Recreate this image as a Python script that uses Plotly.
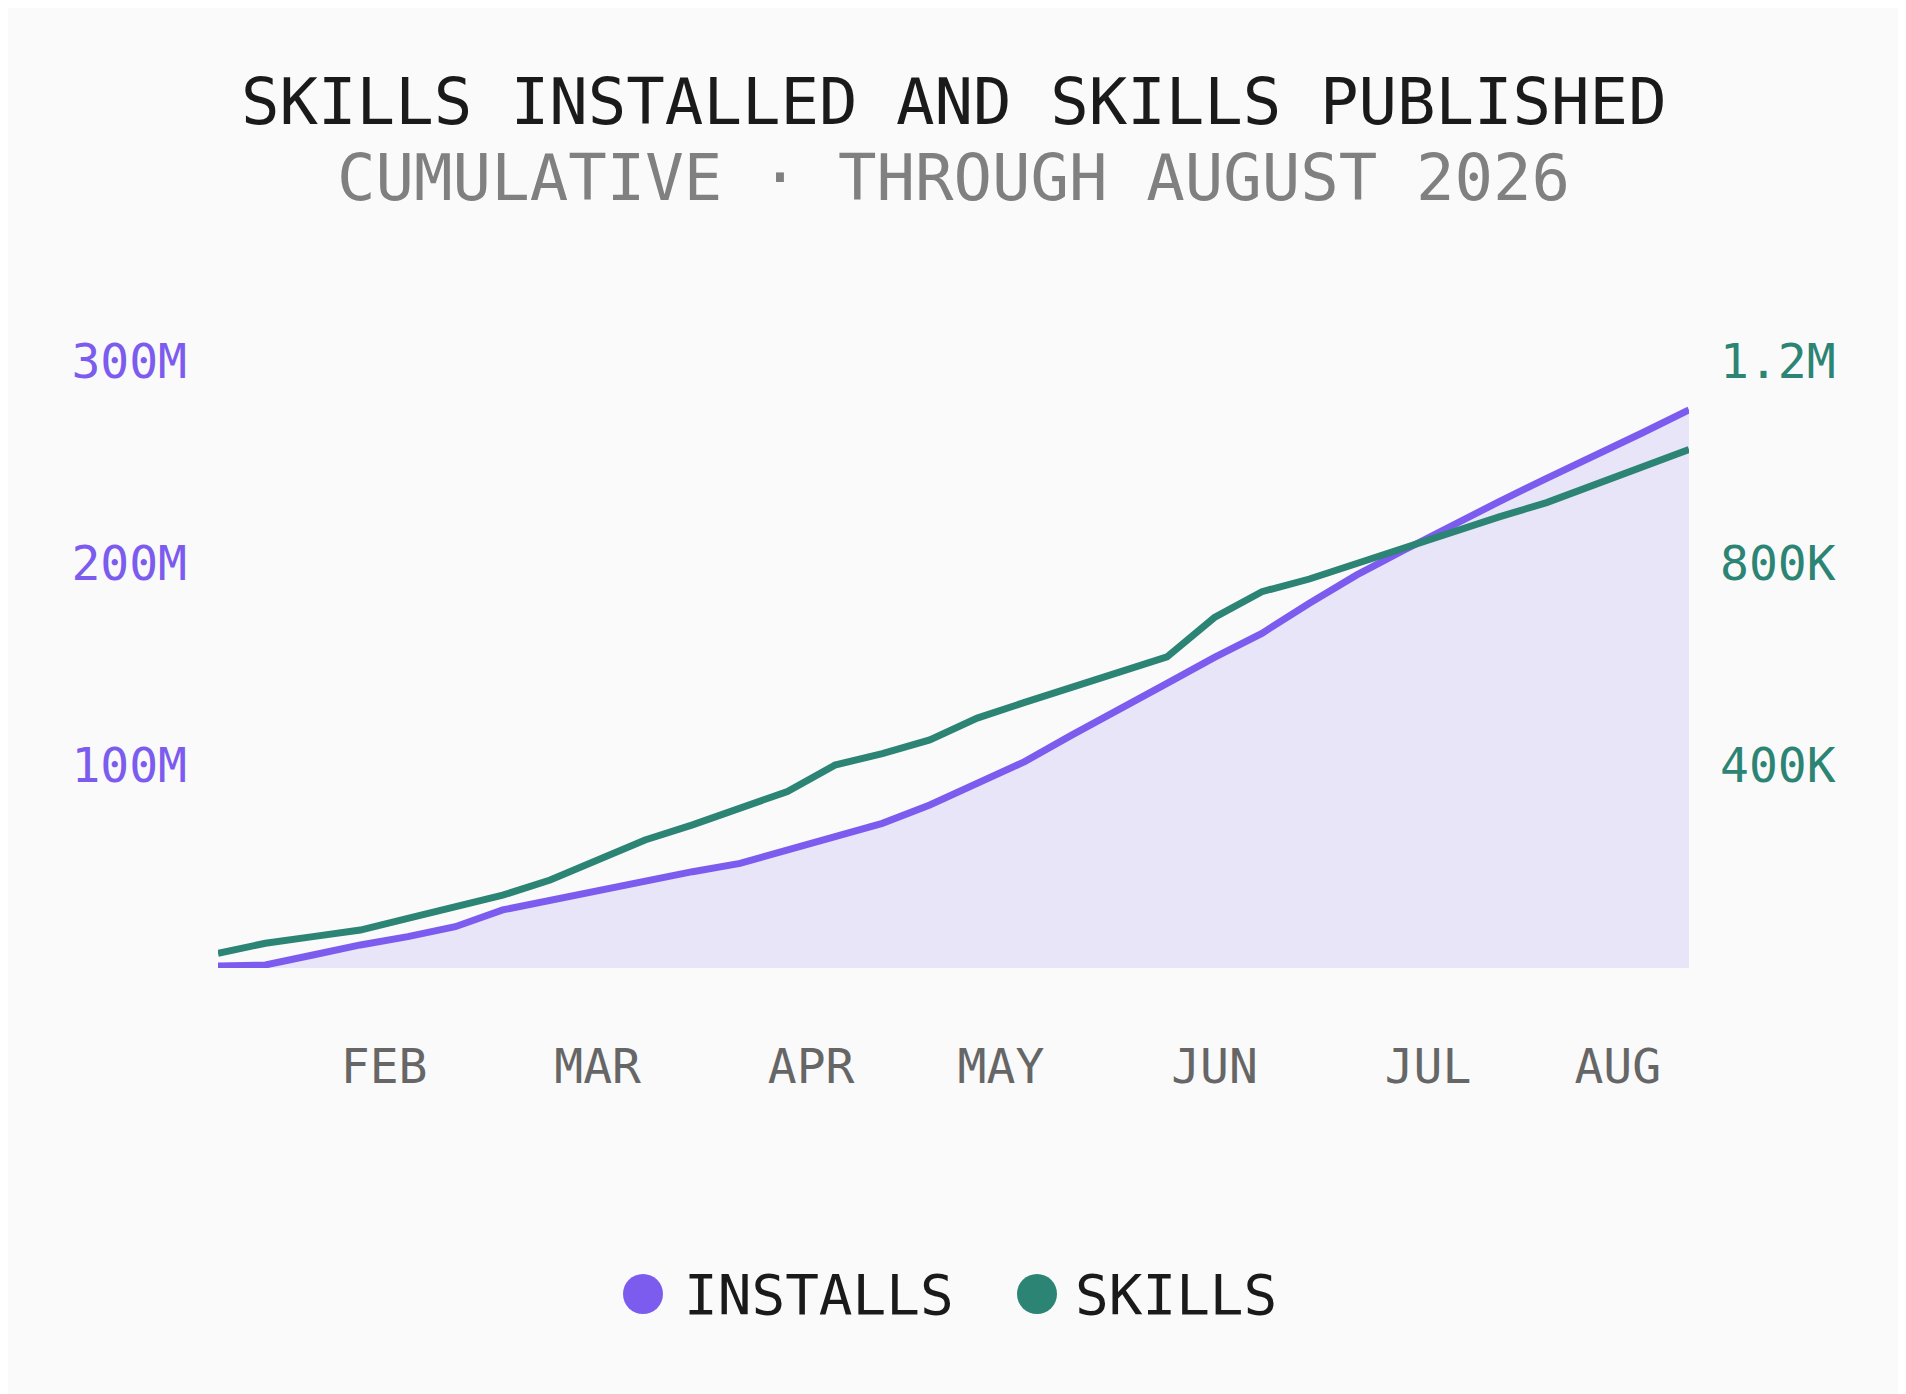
import plotly.graph_objects as go

# ---- data ----
weeks = list(range(32))
installs_m = [1.0, 1.5, 6.4, 11.4, 15.5, 20.4, 28.7, 33.6, 38.6, 42.7, 47.6,
              51.7, 58.3, 64.1, 71.5, 80.6, 91.3, 102.0, 115.2, 127.5, 140.7,
              153.5, 165.4, 180.3, 194.3, 206.6, 219.0, 230.5, 242.0, 253.6,
              264.3, 275.8]
skills_k = [29, 49, 62, 75, 98, 121, 144, 174, 214, 253, 283, 316, 349, 401,
            424, 451, 494, 525, 556, 586, 615, 693, 744, 769, 800, 832, 863,
            892, 920, 955, 990, 1025]
month_pos = [3.5, 8, 12.5, 16.5, 21, 25.5, 29.5]
month_labels = ["FEB", "MAR", "APR", "MAY", "JUN", "JUL", "AUG"]
left_ticks = [100e6, 200e6, 300e6]
left_labels = ["100M", "200M", "300M"]
right_ticks = [400e3, 800e3, 1200e3]
right_labels = ["400K", "800K", "1.2M"]

PURPLE = "#7C5CEF"
GREEN = "#2C8474"
FONT = "DejaVu Sans Mono"

W, H = 1906, 1394
OFF = 8  # page body margin
L, T = 218 - OFF, 361 - OFF
PW, PH = 1471, 607
R, B = W - L - PW, H - T - PH


def px_x(x):
    return (x - OFF - L) / PW


def px_y(y):
    return (T + PH - (y - OFF)) / PH


installs = [v * 1e6 for v in installs_m]
skills = [v * 1e3 for v in skills_k]

fig = go.Figure()
fig.add_trace(go.Scatter(
    x=weeks, y=installs, mode="lines", name="INSTALLS",
    line=dict(color=PURPLE, width=7),
    fill="tozeroy", fillcolor="rgba(124,92,239,0.13)",
    hoverinfo="skip", showlegend=False, yaxis="y"))
fig.add_trace(go.Scatter(
    x=weeks, y=skills, mode="lines", name="SKILLS",
    line=dict(color=GREEN, width=7),
    hoverinfo="skip", showlegend=False, yaxis="y2"))

fig.update_layout(
    width=W, height=H,
    margin=dict(l=L, r=R, t=T, b=B),
    paper_bgcolor="#FAFAFA", plot_bgcolor="#FAFAFA",
    font=dict(family=FONT),
    xaxis=dict(range=[0, 31], tickvals=month_pos, ticktext=month_labels,
               showgrid=False, zeroline=False, showline=False, ticks="",
               tickfont=dict(size=48, color="#666666"),
               ticklabelstandoff=66, fixedrange=True),
    yaxis=dict(range=[0, 300e6], tickvals=left_ticks, ticktext=left_labels,
               showgrid=False, zeroline=False, showline=False, ticks="",
               tickfont=dict(size=48, color=PURPLE),
               ticklabelstandoff=30, fixedrange=True),
    yaxis2=dict(range=[0, 1.2e6], tickvals=right_ticks, ticktext=right_labels,
                overlaying="y", side="right",
                showgrid=False, zeroline=False, showline=False, ticks="",
                tickfont=dict(size=48, color=GREEN),
                ticklabelstandoff=30, fixedrange=True),
)

annotations = [
    dict(text="SKILLS INSTALLED AND SKILLS PUBLISHED", x=0.5, xref="paper",
         y=px_y(102), yref="paper", xanchor="center", yanchor="middle",
         showarrow=False, font=dict(size=64, color="#1A1A1A", family=FONT)),
    dict(text="CUMULATIVE · THROUGH AUGUST 2026", x=0.5, xref="paper",
         y=px_y(178), yref="paper", xanchor="center", yanchor="middle",
         showarrow=False, font=dict(size=64, color="#808080", family=FONT)),
    dict(text="INSTALLS", x=px_x(682), xref="paper", y=px_y(1294),
         yref="paper", xanchor="left", yanchor="middle", showarrow=False,
         font=dict(size=56, color="#1A1A1A", family=FONT)),
    dict(text="SKILLS", x=px_x(1073), xref="paper", y=px_y(1294),
         yref="paper", xanchor="left", yanchor="middle", showarrow=False,
         font=dict(size=56, color="#1A1A1A", family=FONT)),
]
fig.update_layout(annotations=annotations)

r = 20
shapes = []
for cx, col in [(643, PURPLE), (1037, GREEN)]:
    shapes.append(dict(type="circle", xref="paper", yref="paper",
                       x0=px_x(cx - r), x1=px_x(cx + r),
                       y0=px_y(1294 + r), y1=px_y(1294 - r),
                       fillcolor=col, line=dict(width=0)))
fig.update_layout(shapes=shapes)

fig.write_html("out.html", config={"displayModeBar": False})
